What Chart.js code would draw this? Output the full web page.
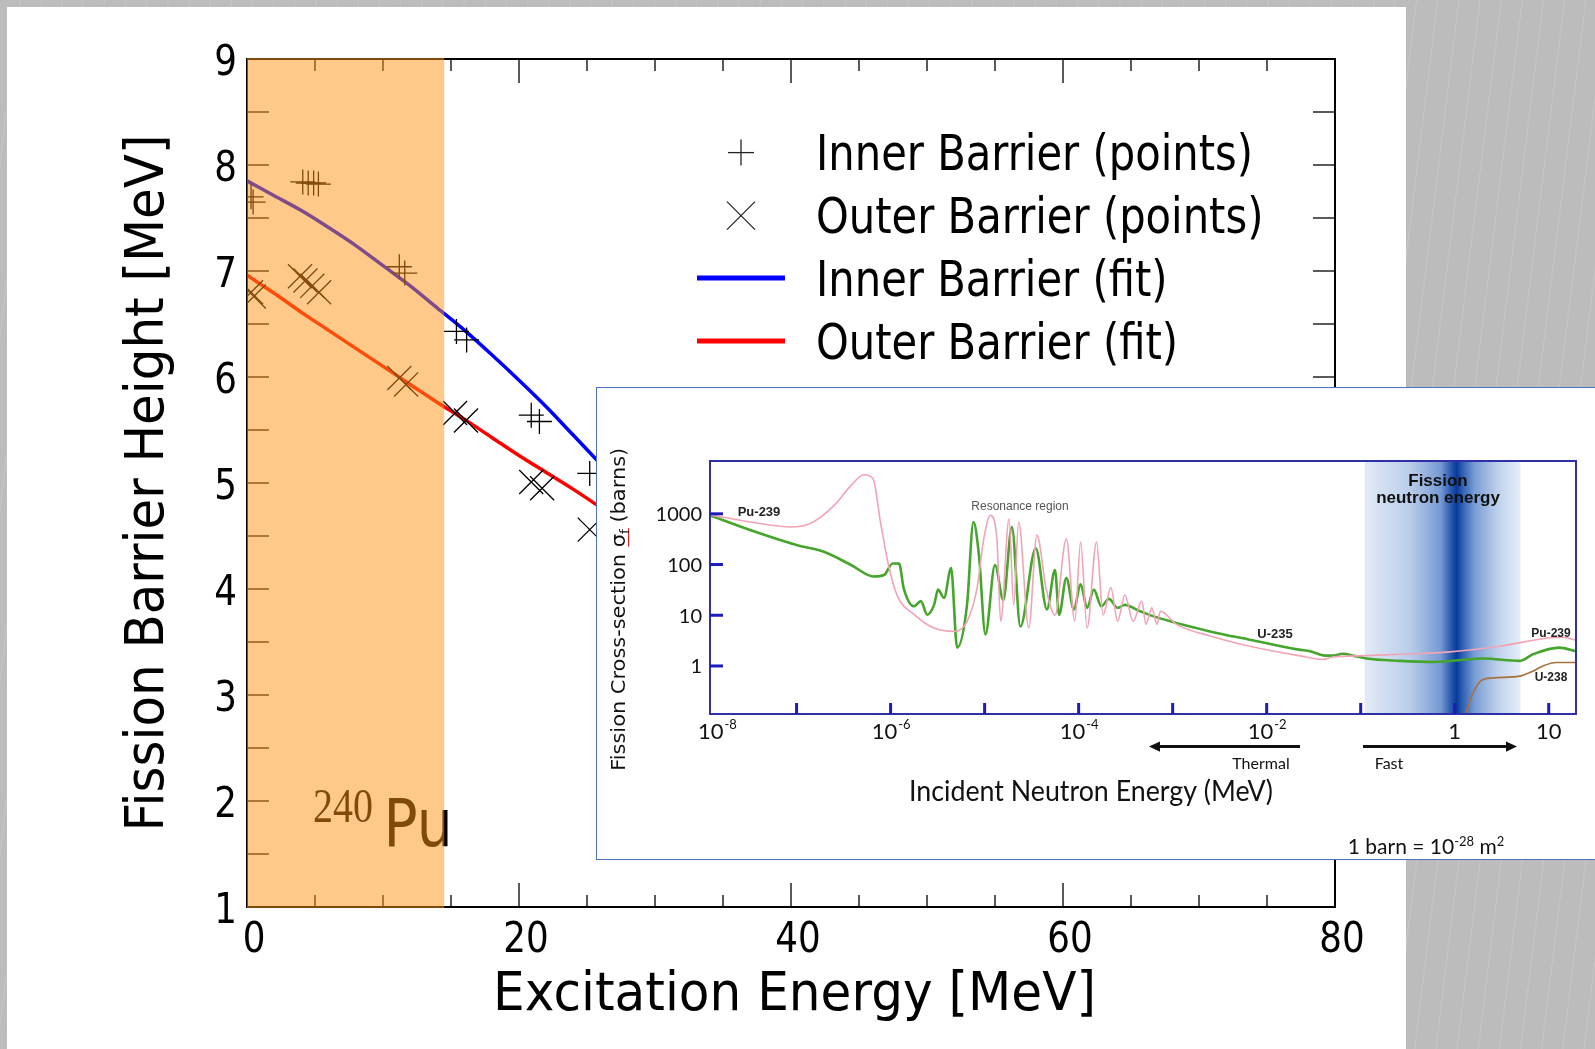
<!DOCTYPE html>
<html>
<head>
<meta charset="utf-8">
<script src="https://cdn.jsdelivr.net/npm/chart.js@4.4.1/dist/chart.umd.min.js"></script>
<style>
  html, body { margin: 0; padding: 0; }
  body {
    width: 1595px; height: 1049px; overflow: hidden; position: relative;
    background: repeating-linear-gradient(97deg, #bcbcbc 0px, #bcbcbc 19px, #c5c5c5 20px, #bcbcbc 21px);
  }
  #sheet { position: absolute; left: 7px; top: 7px; width: 1399px; height: 1042px; background: #fff; }
  #barrierChart { position: absolute; left: 0; top: 0; z-index: 1; }
  #insetBox {
    position: absolute; left: 596px; top: 387px; width: 999px; height: 473px;
    background: #fff; border: 1px solid #4a74c2; border-right: none; box-sizing: border-box; z-index: 2;
  }
  #crossChart { position: absolute; left: -1px; top: -1px; }
</style>
</head>
<body>
<div id="sheet"></div>
<canvas id="barrierChart" width="1595" height="1049"></canvas>
<div id="insetBox"><canvas id="crossChart" width="999" height="473"></canvas></div>

<script>
// ---- barrier heights vs excitation energy ----
const xTickValues = [0, 20, 40, 60, 80];
const xTickLabels = ["0", "20", "40", "60", "80"];
const yTickValues = [1, 2, 3, 4, 5, 6, 7, 8, 9];
const yTickLabels = ["1", "2", "3", "4", "5", "6", "7", "8", "9"];

const innerPointsX = [0.3, 0.45, 4.1, 4.5, 4.9, 5.25, 11.2, 11.6, 15.4, 16.15, 20.9, 21.5, 25.2];
const innerPointsY = [7.70, 7.65, 7.84, 7.83, 7.83, 7.82, 7.04, 6.98, 6.43, 6.35, 5.64, 5.58, 5.09];
const outerPointsX = [0.3, 0.5, 3.9, 4.3, 4.8, 5.3, 11.2, 11.7, 15.3, 16.1, 20.9, 21.7, 25.2];
const outerPointsY = [6.80, 6.76, 6.95, 6.91, 6.86, 6.80, 5.99, 5.93, 5.66, 5.59, 5.01, 4.95, 4.56];

const fitX = [0, 2, 4, 6, 8, 10, 12, 14, 16, 18, 20, 22, 24, 26];
const innerFitY = [7.85, 7.71, 7.57, 7.41, 7.24, 7.05, 6.86, 6.65, 6.44, 6.21, 5.97, 5.72, 5.45, 5.18];
const outerFitY = [6.96, 6.79, 6.61, 6.44, 6.27, 6.10, 5.93, 5.76, 5.60, 5.43, 5.26, 5.10, 4.94, 4.77];

const shadedRange = [0, 14.5];

// ---- fission cross-sections (inset) ----
const pu239Energy = [1.2e-8, 3.2e-8, 8.7e-8, 1.4e-7, 2.5e-7, 3.8e-7, 5.2e-7, 6.5e-7, 7.8e-7, 9.5e-7,
  1.17e-6, 1.8e-6, 2.9e-6, 4.7e-6, 6.5e-6, 8.3e-6, 9.8e-6, 1.15e-5, 1.35e-5, 1.48e-5,
  1.82e-5, 2.04e-5, 2.3e-5, 2.95e-5, 3.6e-5, 4.5e-5, 5.6e-5, 7.4e-5, 9.1e-5, 1.05e-4,
  1.23e-4, 1.55e-4, 1.82e-4, 2.2e-4, 2.6e-4, 3.1e-4, 3.8e-4, 4.7e-4, 5.2e-4, 6.0e-4,
  6.8e-4, 7.4e-4, 1.1e-3, 2.5e-3, 6.6e-3, 2.2e-2, 4.0e-2, 5.0e-2, 0.115, 0.26,
  0.89, 3.0, 10.2, 14, 19.5];
const pu239Sigma = [955, 690, 550, 645, 1450, 3630, 5890, 4900, 690, 98,
  25, 10.2, 5.6, 4.8, 7.6, 34, 320, 930, 330, 7.6,
  790, 16, 690, 5.6, 380, 34, 10, 320, 7.6, 280,
  5.6, 280, 10, 35, 7.6, 25, 7.6, 19, 6.6, 14,
  6.6, 12, 6.6, 3.9, 2.45, 1.6, 1.35, 1.5, 1.6, 1.7,
  1.9, 2.45, 3.6, 3.7, 3.2];

const u235Energy = [1.2e-8, 3.2e-8, 1.02e-7, 1.95e-7, 3.8e-7, 6.6e-7, 8.5e-7, 1.05e-6, 1.23e-6, 1.38e-6,
  1.78e-6, 2.1e-6, 2.45e-6, 2.9e-6, 3.2e-6, 3.7e-6, 4.4e-6, 5.1e-6, 6.5e-6, 7.6e-6,
  8.7e-6, 1.02e-5, 1.29e-5, 1.58e-5, 1.95e-5, 2.4e-5, 3.5e-5, 4.6e-5, 5.6e-5, 6.2e-5,
  7.4e-5, 8.9e-5, 1.05e-4, 1.23e-4, 1.45e-4, 1.74e-4, 2.1e-4, 2.6e-4, 3.1e-4, 4.5e-4,
  6.3e-4, 2.5e-3, 6.6e-3, 2.2e-2, 2.9e-2, 4.2e-2, 5.0e-2, 6.5e-2, 8.3e-2, 0.115,
  0.26, 0.59, 2.0, 4.9, 6.8, 12.9, 19.5];
const u235Sigma = [933, 479, 240, 178, 98, 58, 62, 105, 105, 34,
  15, 19, 10.2, 16, 32, 22, 85, 2.3, 16, 690,
  155, 4.2, 98, 20, 550, 6.0, 210, 13, 78, 10.2,
  54, 13, 41, 14, 32, 15, 21, 14, 16, 12,
  9.5, 4.8, 3.3, 2.1, 1.95, 1.6, 1.6, 1.74, 1.6, 1.4,
  1.26, 1.2, 1.4, 1.26, 1.7, 2.3, 1.95];

const u238Energy = [1.3, 1.55, 1.9, 2.5, 4.9, 6.8, 8.7, 12, 19.5];
const u238Sigma = [0.11, 0.28, 0.51, 0.58, 0.63, 0.79, 1.0, 1.17, 1.17];

const insetXTicks = [1e-7, 1e-6, 1e-5, 1e-4, 1e-3, 1e-2, 1e-1, 1, 10];
const insetXLabelValues = [1e-8, 1e-6, 1e-4, 1e-2, 1, 10];
const insetXLabelBase = ["10", "10", "10", "10", "1", "10"];
const insetXLabelExp = ["-8", "-6", "-4", "-2", "", ""];
const insetYTicks = [1, 10, 100, 1000];
const insetYLabels = ["1", "10", "100", "1000"];
const fissionBand = [0.11, 1.05, 5.0]; // low edge, peak, high edge (MeV)

function toPoints(xs, ys) {
  return xs.map((v, i) => ({ x: v, y: ys[i] }));
}

function seg(ctx, x1, y1, x2, y2) {
  ctx.beginPath();
  ctx.moveTo(x1, y1);
  ctx.lineTo(x2, y2);
  ctx.stroke();
}

// text squeezed horizontally, either by a factor or to a given width
function squeezeText(ctx, text, x, y, font, opt = {}) {
  ctx.save();
  ctx.font = font;
  const w = ctx.measureText(text).width;
  const sx = opt.width ? opt.width / w : (opt.sx || 1);
  ctx.translate(x, y);
  if (opt.rotate) ctx.rotate(opt.rotate);
  ctx.scale(sx, 1);
  ctx.textAlign = opt.align || "center";
  ctx.textBaseline = "alphabetic";
  ctx.fillStyle = opt.color || "#000";
  ctx.fillText(text, 0, 0);
  ctx.restore();
}

const barrierAxes = {
  id: "barrierAxes",
  afterDatasetsDraw(chart) {
    const { ctx, chartArea: a, scales: { x, y } } = chart;
    ctx.save();
    ctx.strokeStyle = "#000";
    ctx.lineWidth = 1.3;
    for (let v = 0; v <= 80; v += 5) {
      const px = x.getPixelForValue(v);
      const len = v % 20 === 0 ? 24 : 12;
      seg(ctx, px, a.bottom, px, a.bottom - len);
      seg(ctx, px, a.top, px, a.top + len);
    }
    for (let v = 1; v <= 9; v += 0.5) {
      const py = y.getPixelForValue(v);
      seg(ctx, a.left, py, a.left + 22, py);
      seg(ctx, a.right, py, a.right - 22, py);
    }
    ctx.lineWidth = 2;
    ctx.strokeRect(a.left, a.top, a.right - a.left, a.bottom - a.top);
    ctx.restore();

    const tickFont = '43px "DejaVu Sans"';
    yTickValues.forEach((v, i) => {
      squeezeText(ctx, yTickLabels[i], a.left - 10, y.getPixelForValue(v) + 15.7, tickFont, { sx: 0.83, align: "right" });
    });
    xTickValues.forEach((v, i) => {
      squeezeText(ctx, xTickLabels[i], x.getPixelForValue(v) + 7, a.bottom + 45, tickFont, { sx: 0.83 });
    });

    squeezeText(ctx, "Fission Barrier Height [MeV]", 163, (a.top + a.bottom) / 2, '53px "DejaVu Sans"',
      { width: 697, rotate: -Math.PI / 2 });
    squeezeText(ctx, "Excitation Energy [MeV]", 794.5, 1010, '53px "DejaVu Sans"', { width: 603 });

    // legend
    const ds = chart.data.datasets;
    ctx.save();
    ctx.font = '49px "DejaVu Sans"';
    const legSx = 437 / ctx.measureText(ds[0].label).width;
    ctx.restore();
    const rows = [152.6, 215.6, 278, 341];
    ds.forEach((d, i) => {
      const cy = rows[i];
      ctx.save();
      if (i === 0) {
        ctx.strokeStyle = "#222"; ctx.lineWidth = 1.3;
        seg(ctx, 728, cy, 754, cy); seg(ctx, 741, cy - 13, 741, cy + 13);
      } else if (i === 1) {
        ctx.strokeStyle = "#222"; ctx.lineWidth = 1.3;
        seg(ctx, 727, cy - 14, 755, cy + 14); seg(ctx, 727, cy + 14, 755, cy - 14);
      } else {
        ctx.strokeStyle = d.borderColor; ctx.lineWidth = 5;
        seg(ctx, 697, cy, 785, cy);
      }
      ctx.restore();
      squeezeText(ctx, d.label, 816, cy + 17.8, '49px "DejaVu Sans"', { sx: legSx, align: "left" });
    });

    // isotope tag, later tinted by the shaded band
    squeezeText(ctx, "240", 313, 822, '48px "Liberation Serif"', { width: 60, align: "left" });
    squeezeText(ctx, "Pu", 383.5, 846, '65px "DejaVu Sans"', { width: 69, align: "left" });
  },
  afterDraw(chart) {
    const { ctx, chartArea: a, scales: { x } } = chart;
    const x0 = x.getPixelForValue(shadedRange[0]);
    const x1 = x.getPixelForValue(shadedRange[1]);
    ctx.save();
    ctx.fillStyle = "rgba(255, 150, 20, 0.5)";
    ctx.fillRect(x0, a.top - 1, x1 - x0, a.bottom - a.top + 2);
    ctx.restore();
  }
};

new Chart(document.getElementById("barrierChart"), {
  type: "scatter",
  data: {
    datasets: [
      {
        label: "Inner Barrier (points)",
        data: toPoints(innerPointsX, innerPointsY),
        pointStyle: "cross", pointRadius: 12.5, pointBorderWidth: 1.3,
        borderColor: "#000", backgroundColor: "#000", clip: 0
      },
      {
        label: "Outer Barrier (points)",
        data: toPoints(outerPointsX, outerPointsY),
        pointStyle: "crossRot", pointRadius: 17, pointBorderWidth: 1.3,
        borderColor: "#000", backgroundColor: "#000", clip: 0
      },
      {
        label: "Inner Barrier (fit)",
        data: toPoints(fitX, innerFitY),
        showLine: true, pointRadius: 0, borderColor: "#0000ff", borderWidth: 3.5,
        cubicInterpolationMode: "monotone", clip: 0
      },
      {
        label: "Outer Barrier (fit)",
        data: toPoints(fitX, outerFitY),
        showLine: true, pointRadius: 0, borderColor: "#ff0000", borderWidth: 3.5,
        cubicInterpolationMode: "monotone", clip: 0
      }
    ]
  },
  options: {
    responsive: false,
    animation: false,
    layout: { padding: { left: 247, top: 59, right: 260, bottom: 142 } },
    scales: {
      x: { type: "linear", min: 0, max: 80, display: false },
      y: { type: "linear", min: 1, max: 9, display: false }
    },
    plugins: { legend: { display: false }, tooltip: { enabled: false } }
  },
  plugins: [barrierAxes]
});

// ---- inset: cross-section vs incident energy ----
const insetDecor = {
  id: "insetDecor",
  beforeDatasetsDraw(chart) {
    const { ctx, chartArea: a, scales: { x } } = chart;
    const x0 = x.getPixelForValue(fissionBand[0]);
    const xc = x.getPixelForValue(fissionBand[1]);
    const x1 = x.getPixelForValue(fissionBand[2]);
    const c = px => Math.min(1, Math.max(0, (px - x0) / (x1 - x0)));
    const g = ctx.createLinearGradient(x0, 0, x1, 0);
    g.addColorStop(0, "#e2ebf7");
    g.addColorStop(c(x0 + (xc - x0) * 0.5), "#b9cdea");
    g.addColorStop(c(xc - 16), "#7699d3");
    g.addColorStop(c(xc - 5), "#2456ad");
    g.addColorStop(c(xc), "#08399a");
    g.addColorStop(c(xc + 5), "#2a5cb2");
    g.addColorStop(c(xc + 18), "#7a9dd5");
    g.addColorStop(c(xc + (x1 - xc) * 0.65), "#bfd2ec");
    g.addColorStop(1, "#e6eef8");
    ctx.save();
    ctx.fillStyle = g;
    ctx.fillRect(x0, a.top, x1 - x0, a.bottom - a.top);
    ctx.restore();
  },
  afterDatasetsDraw(chart) {
    const { ctx, chartArea: a, scales: { x, y } } = chart;
    ctx.save();
    ctx.strokeStyle = "#2f2fa8";
    ctx.lineWidth = 2;
    ctx.strokeRect(a.left, a.top, a.right - a.left, a.bottom - a.top);
    ctx.strokeStyle = "#1c1cb8";
    ctx.lineWidth = 3;
    insetYTicks.forEach(v => {
      const py = y.getPixelForValue(v);
      seg(ctx, a.left, py, a.left + 13, py);
    });
    insetXTicks.forEach(v => {
      const px = x.getPixelForValue(v);
      seg(ctx, px, a.bottom, px, a.bottom - 11);
    });

    ctx.fillStyle = "#111";
    ctx.font = "20px Lato";
    ctx.textAlign = "right";
    ctx.textBaseline = "middle";
    insetYTicks.forEach((v, i) => ctx.fillText(insetYLabels[i], a.left - 8, y.getPixelForValue(v) + 1));

    // decade labels with raised exponents
    insetXLabelValues.forEach((v, i) => {
      ctx.font = "22px Lato";
      const bw = ctx.measureText(insetXLabelBase[i]).width;
      ctx.font = "13px Lato";
      const ew = ctx.measureText(insetXLabelExp[i]).width;
      const total = bw + ew;
      let cx = x.getPixelForValue(v);
      cx = Math.max(cx, a.left + total / 2 - 12);
      const left = cx - total / 2;
      ctx.textAlign = "left";
      ctx.textBaseline = "alphabetic";
      ctx.font = "22px Lato";
      ctx.fillText(insetXLabelBase[i], left, a.bottom + 25);
      ctx.font = "13px Lato";
      ctx.fillText(insetXLabelExp[i], left + bw + 1, a.bottom + 15);
    });

    // curve tags
    ctx.textAlign = "center";
    ctx.fillStyle = "#222";
    ctx.font = 'bold 13px "Liberation Sans"';
    ctx.fillText("Pu-239", 163, 129);
    ctx.fillText("U-235", 679, 251);
    ctx.font = 'bold 12px "Liberation Sans"';
    ctx.fillText("Pu-239", 955, 250);
    ctx.fillText("U-238", 955, 294);
    ctx.fillStyle = "#555";
    ctx.font = '12px "Liberation Sans"';
    ctx.fillText("Resonance region", 424, 123);
    ctx.fillStyle = "#111";
    ctx.font = 'bold 17px "Liberation Sans"';
    ctx.fillText("Fission", 842, 99);
    ctx.fillText("neutron energy", 842, 116);

    // thermal / fast arrows
    ctx.strokeStyle = "#111";
    ctx.fillStyle = "#111";
    ctx.lineWidth = 3;
    seg(ctx, 704, 359.6, 560, 359.6);
    seg(ctx, 767, 359.6, 913, 359.6);
    ctx.beginPath();
    ctx.moveTo(553, 359.6); ctx.lineTo(564, 354.5); ctx.lineTo(564, 364.7); ctx.closePath(); ctx.fill();
    ctx.beginPath();
    ctx.moveTo(921, 359.6); ctx.lineTo(910, 354.5); ctx.lineTo(910, 364.7); ctx.closePath(); ctx.fill();
    ctx.font = "16px Lato";
    ctx.fillText("Thermal", 665, 382);
    ctx.fillText("Fast", 793, 382);
    ctx.restore();

    squeezeText(ctx, "Incident Neutron Energy (MeV)", 495, 413.6, "28px Lato", { width: 364, color: "#111" });

    // rotated axis title with subscript
    ctx.save();
    ctx.translate(28.6, 222.3);
    ctx.rotate(-Math.PI / 2);
    ctx.fillStyle = "#111";
    const partA = "Fission Cross-section \u03c3", partB = "f", partC = " (barns)";
    ctx.font = '20px "DejaVu Sans"';
    const wa = ctx.measureText(partA).width, wc = ctx.measureText(partC).width;
    ctx.font = '13px "DejaVu Sans"';
    const wb = ctx.measureText(partB).width;
    const sx = 323 / (wa + wb + wc);
    ctx.scale(sx, 1);
    let cursor = -(wa + wb + wc) / 2;
    ctx.textAlign = "left";
    ctx.textBaseline = "alphabetic";
    ctx.font = '20px "DejaVu Sans"';
    ctx.fillText(partA, cursor, 0);
    ctx.strokeStyle = "#e02020";
    ctx.lineWidth = 1.2;
    seg(ctx, cursor + wa - 12, 4, cursor + wa + wb + 1, 4);
    cursor += wa;
    ctx.font = '13px "DejaVu Sans"';
    ctx.fillText(partB, cursor, 4);
    cursor += wb;
    ctx.font = '20px "DejaVu Sans"';
    ctx.fillText(partC, cursor, 0);
    ctx.restore();

    // unit note
    ctx.save();
    ctx.fillStyle = "#111";
    ctx.textBaseline = "alphabetic";
    ctx.textAlign = "left";
    const pieces = [["1 barn = 10", 21, 0], ["-28", 13, -8], [" m", 21, 0], ["2", 13, -8]];
    let tw = 0;
    pieces.forEach(p => { ctx.font = p[1] + "px Lato"; tw += ctx.measureText(p[0]).width; });
    let px = 830 - tw / 2;
    pieces.forEach(p => {
      ctx.font = p[1] + "px Lato";
      ctx.fillText(p[0], px, 467 + p[2]);
      px += ctx.measureText(p[0]).width;
    });
    ctx.restore();
  }
};

new Chart(document.getElementById("crossChart"), {
  type: "line",
  data: {
    datasets: [
      {
        label: "Pu-239",
        data: toPoints(pu239Energy, pu239Sigma),
        borderColor: "#f2a3b4", borderWidth: 1.6, pointRadius: 0,
        cubicInterpolationMode: "monotone"
      },
      {
        label: "U-235",
        data: toPoints(u235Energy, u235Sigma),
        borderColor: "#46a52c", borderWidth: 2.6, pointRadius: 0,
        cubicInterpolationMode: "monotone"
      },
      {
        label: "U-238",
        data: toPoints(u238Energy, u238Sigma),
        borderColor: "#a8703c", borderWidth: 1.6, pointRadius: 0,
        cubicInterpolationMode: "monotone"
      }
    ]
  },
  options: {
    responsive: false,
    animation: false,
    layout: { padding: { left: 114, top: 74, right: 19, bottom: 146 } },
    scales: {
      x: { type: "logarithmic", min: 1.2e-8, max: 19.5, display: false },
      y: { type: "logarithmic", min: 0.113, max: 11000, display: false }
    },
    plugins: { legend: { display: false }, tooltip: { enabled: false } }
  },
  plugins: [insetDecor]
});
</script>
</body>
</html>
